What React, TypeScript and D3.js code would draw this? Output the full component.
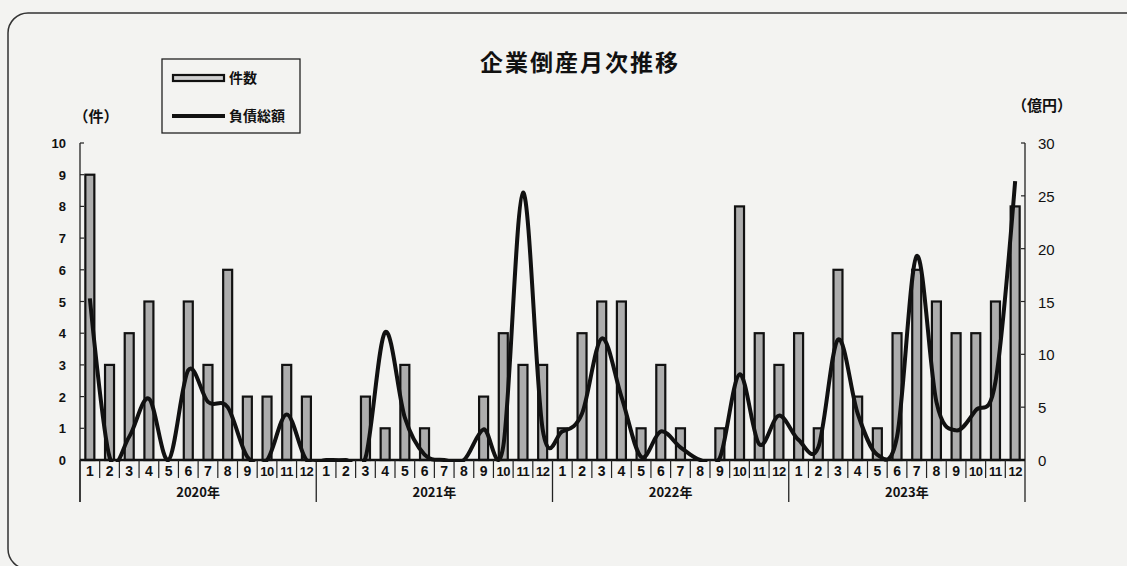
import React from "react";
import * as d3 from "d3";

const years = ["2020年", "2021年", "2022年", "2023年"];
const monthLabels = ["1", "2", "3", "4", "5", "6", "7", "8", "9", "10", "11", "12"];
const counts = [
  9, 3, 4, 5, 0, 5, 3, 6, 2, 2, 3, 2,
  0, 0, 2, 1, 3, 1, 0, 0, 2, 4, 3, 3,
  1, 4, 5, 5, 1, 3, 1, 0, 1, 8, 4, 3,
  4, 1, 6, 2, 1, 4, 6, 5, 4, 4, 5, 8,
];
const liabilities = [
  15.3, 0.3, 2.2, 5.8, 0, 8.5, 5.5, 5.0, 0.3, 0, 4.3, 0,
  0, 0, 0.2, 12.1, 4.0, 0.5, 0, 0, 2.9, 1.3, 25.3, 2.9,
  2.7, 4.4, 11.5, 6.0, 0.3, 2.7, 1.2, 0, 0.2, 8.1, 1.5, 4.2,
  1.9, 1.2, 11.4, 4.4, 0.5, 2.2, 19.3, 5.5, 2.8, 4.7, 7.4, 26.4,
];
const leftTicks = [0, 1, 2, 3, 4, 5, 6, 7, 8, 9, 10];
const rightTicks = [0, 5, 10, 15, 20, 25, 30];

const W = 1127;
const H = 566;
const X0 = 80;
const X1 = 1025;
const Y0 = 460;
const Y1 = 143;
const FONT = "'Liberation Sans', Arial, sans-serif";
const JFONT = "'Noto Sans CJK JP', 'Noto Sans', sans-serif";

export default function App() {
  const keys = d3.range(counts.length);
  const x = d3.scaleBand<number>().domain(keys).range([X0, X1]).padding(0);
  const bw = x.bandwidth();
  const yL = d3.scaleLinear().domain([0, 10]).range([Y0, Y1]);
  const yR = d3.scaleLinear().domain([0, 30]).range([Y0, Y1]);
  const line = d3
    .line<number>()
    .x((_, i) => (x(i) as number) + bw / 2)
    .y((d) => yR(d))
    .curve(d3.curveCardinal.tension(0));
  const barW = 9;

  return (
    <svg
      width={W}
      height={H}
      style={{ position: "absolute", left: 0, top: 0, background: "#f3f3f1" }}
    >
      <defs>
        <clipPath id="plotClip">
          <rect x={X0} y={100} width={X1 - X0} height={Y0 + 2 - 100} />
        </clipPath>
      </defs>
      <rect x={8} y={13} width={1140} height={556} rx={20} fill="none" stroke="#333" strokeWidth={1.5} />
      <text x={580} y={71} textAnchor="middle" fontFamily={JFONT} fontWeight={700} fontSize={23} letterSpacing={2} fill="#111">
        企業倒産月次推移
      </text>

      {/* legend */}
      <rect x={162} y={59} width={138} height={74} fill="none" stroke="#222" strokeWidth={1.3} />
      <rect x={173} y={75} width={51} height={6} fill="#d0d0d0" stroke="#111" strokeWidth={2.2} />
      <text x={229} y={83} fontFamily={JFONT} fontWeight={700} fontSize={14} fill="#111">件数</text>
      <line x1={172} x2={225} y1={116} y2={116} stroke="#111" strokeWidth={4} />
      <text x={229} y={121} fontFamily={JFONT} fontWeight={700} fontSize={14} fill="#111">負債総額</text>

      {/* axis titles */}
      <text x={96} y={122} textAnchor="middle" fontFamily={JFONT} fontWeight={700} fontSize={15} fill="#111">（件）</text>
      <text x={1042} y={111} textAnchor="middle" fontFamily={JFONT} fontWeight={700} fontSize={15} fill="#111">（億円）</text>

      {/* left axis */}
      <line x1={X0} x2={X0} y1={Y1} y2={502} stroke="#222" strokeWidth={1.3} />
      {leftTicks.map((t) => (
        <g key={"l" + t}>
          <line x1={X0} x2={X0 + 4} y1={yL(t)} y2={yL(t)} stroke="#222" strokeWidth={1.2} />
          <text x={66} y={yL(t) + 5} textAnchor="end" fontFamily={FONT} fontWeight={700} fontSize={13} fill="#111">{t}</text>
        </g>
      ))}
      {/* right axis */}
      <line x1={X1} x2={X1} y1={Y1} y2={502} stroke="#222" strokeWidth={1.3} />
      {rightTicks.map((t) => (
        <g key={"r" + t}>
          <line x1={X1 - 4} x2={X1} y1={yR(t)} y2={yR(t)} stroke="#222" strokeWidth={1.2} />
          <text x={1038} y={yR(t) + 6} fontFamily={FONT} fontSize={15} fill="#111">{t}</text>
        </g>
      ))}

      {/* bars */}
      {counts.map((c, i) => (
        <rect
          key={"b" + i}
          x={(x(i) as number) + (bw - barW) / 2}
          y={yL(c)}
          width={barW}
          height={Y0 - yL(c)}
          fill="#adadad"
          stroke="#111"
          strokeWidth={2.2}
        />
      ))}

      {/* x axis */}
      <line x1={X0} x2={X1} y1={Y0} y2={Y0} stroke="#111" strokeWidth={2.5} />
      {keys.map((i) => (
        <g key={"m" + i}>
          {i > 0 && i % 12 !== 0 && (
            <line x1={x(i) as number} x2={x(i) as number} y1={Y0} y2={478} stroke="#222" strokeWidth={1.2} />
          )}
          <text
            x={(x(i) as number) + bw / 2}
            y={476}
            textAnchor="middle"
            fontFamily={FONT}
            fontWeight={700}
            fontSize={i % 12 >= 9 ? 13 : 14}
            letterSpacing={i % 12 >= 9 ? -0.5 : 0}
            fill="#111"
          >
            {monthLabels[i % 12]}
          </text>
        </g>
      ))}
      {years.map((yr, k) => {
        const xs = x(k * 12) as number;
        const xe = (x(k * 12 + 11) as number) + bw;
        return (
          <g key={yr}>
            <line x1={xs} x2={xs} y1={Y0} y2={502} stroke="#222" strokeWidth={1.3} />
            <text x={(xs + xe) / 2} y={497} textAnchor="middle" fontFamily={JFONT} fontWeight={700} fontSize={13} fill="#111">
              {yr}
            </text>
          </g>
        );
      })}

      {/* line */}
      <path
        d={line(liabilities) || ""}
        fill="none"
        stroke="#111"
        strokeWidth={4}
        strokeLinejoin="round"
        clipPath="url(#plotClip)"
      />
    </svg>
  );
}
